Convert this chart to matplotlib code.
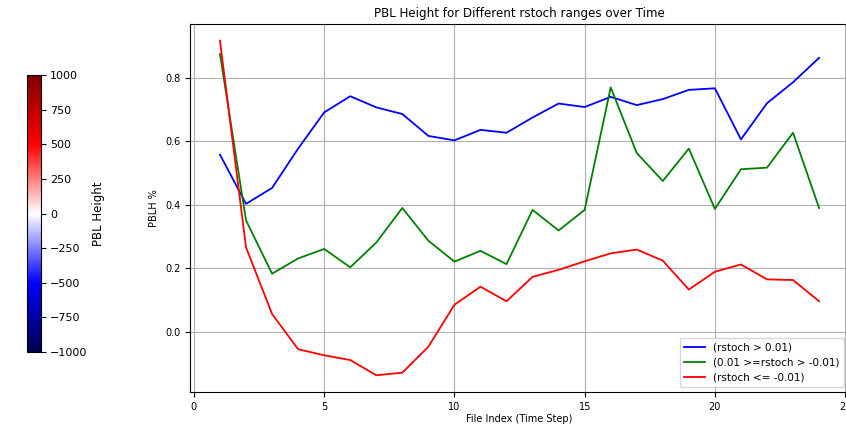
import matplotlib
matplotlib.use("Agg")
import matplotlib.pyplot as plt
from matplotlib import cm, colors

file_index = list(range(1, 25))

pblh_pos = [0.558, 0.403, 0.453, 0.577, 0.691, 0.742, 0.707, 0.686, 0.617, 0.603, 0.636, 0.627,
            0.675, 0.719, 0.708, 0.740, 0.714, 0.733, 0.762, 0.767, 0.606, 0.720, 0.786, 0.863]
pblh_mid = [0.875, 0.351, 0.183, 0.231, 0.261, 0.203, 0.281, 0.390, 0.287, 0.221, 0.255, 0.213,
            0.384, 0.319, 0.384, 0.770, 0.563, 0.475, 0.577, 0.387, 0.512, 0.517, 0.627, 0.390]
pblh_neg = [0.917, 0.266, 0.056, -0.055, -0.074, -0.089, -0.137, -0.129, -0.047, 0.085, 0.142, 0.096,
            0.173, 0.195, 0.222, 0.247, 0.259, 0.224, 0.133, 0.189, 0.212, 0.165, 0.163, 0.096]

series_labels = ["(rstoch > 0.01)", "(0.01 >=rstoch > -0.01)", "(rstoch <= -0.01)"]
series_colors = ["blue", "green", "red"]

cbar_ticks = [-1000, -750, -500, -250, 0, 250, 500, 750, 1000]

fig = plt.figure(figsize=(8.46, 4.24), dpi=100)

# main line plot (right edge runs slightly past the figure, as in the cropped original)
ax = fig.add_axes([0.2246, 0.0755, 0.779, 0.868])
for vals, lab, col in zip([pblh_pos, pblh_mid, pblh_neg], series_labels, series_colors):
    ax.plot(file_index, vals, color=col, label=lab, linewidth=1.3)
ax.grid(True)
ax.set_title("PBL Height for Different rstoch ranges over Time", fontsize=8.6, pad=5)
ax.set_xlabel("File Index (Time Step)", fontsize=7, labelpad=1.5)
ax.set_ylabel("PBLH %", fontsize=7)
ax.tick_params(labelsize=7)
ax.legend(loc="lower right", fontsize=7.5)

# colorbar panel on the left
cax = fig.add_axes([0.0319, 0.1698, 0.016, 0.653])
norm = colors.Normalize(vmin=-1000, vmax=1000)
cb = fig.colorbar(cm.ScalarMappable(norm=norm, cmap="seismic"), cax=cax, ticks=cbar_ticks)
cb.ax.tick_params(labelsize=8)
cb.set_label("PBL Height", fontsize=8.5, labelpad=3)

fig.savefig("out.png", dpi=100)
